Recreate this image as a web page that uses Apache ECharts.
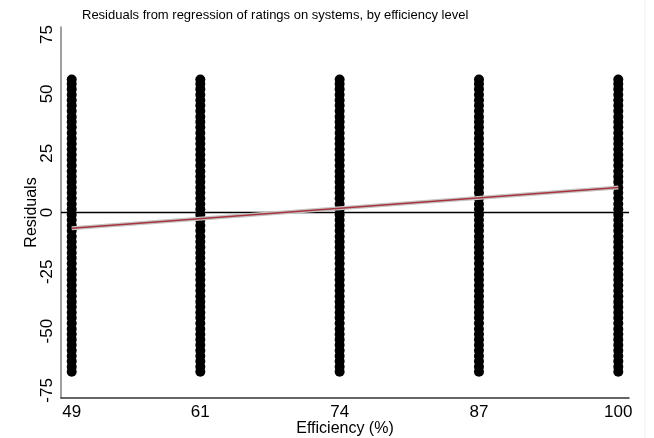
<!DOCTYPE html>
<html>
<head>
<meta charset="utf-8">
<script src="https://cdn.jsdelivr.net/npm/echarts@6/dist/echarts.min.js"></script>
<style>html,body{margin:0;padding:0;background:#fff;}#c{width:654px;height:438px;}</style>
</head>
<body>
<div id="c"></div>
<script>
const titleText = "Residuals from regression of ratings on systems, by efficiency level";
const efficiencyLevels = [49, 61, 74, 87, 100];
const xTicks = [49, 61, 74, 87, 100];
const yTicks = [-75, -50, -25, 0, 25, 50, 75];
const residuals = [56.1, 54.2, 52.0, 49.6, 47.3, 45.1, 42.8, 40.4, 38.2, 35.9, 33.5, 31.2, 29.0, 26.7, 24.3, 22.1, 19.8, 17.4, 15.2, 12.9, 10.5, 8.3, 6.0, 3.6, 1.4, -0.9, -3.2, -5.5, -7.7, -10.1, -12.3, -14.6, -17.0, -19.2, -21.5, -23.9, -26.1, -28.4, -30.7, -33.0, -35.3, -37.6, -39.8, -42.2, -44.4, -46.7, -49.1, -51.3, -53.6, -55.9, -58.2, -60.5, -62.7, -65.0, -67.1];
const fitX = [49, 100];
const fitY = [-6.6, 10.5];
const zeroX = [48, 101];

const pts = [];
efficiencyLevels.forEach(x => residuals.forEach(r => pts.push([x, r])));
const fitData = fitX.map((x, i) => [x, fitY[i]]);
const zeroData = zeroX.map(x => [x, 0]);

const FONT = 'Liberation Sans, Arial, sans-serif';
const chart = echarts.init(document.getElementById('c'), null, {renderer: 'canvas'});
chart.setOption({
  animation: false,
  backgroundColor: '#fff',
  title: {
    text: titleText, left: 77, top: 4,
    textStyle: {fontFamily: FONT, fontSize: 13, fontWeight: 'normal', color: '#000'}
  },
  grid: {left: 61, right: 25, top: 27, bottom: 40, outerBoundsMode: 'none', containLabel: false},
  xAxis: {
    type: 'value', min: 48, max: 101,
    name: 'Efficiency (%)', nameLocation: 'middle', nameGap: 23, nameMoveOverlap: false,
    nameTextStyle: {fontFamily: FONT, fontSize: 16, color: '#000'},
    axisLine: {show: true, onZero: false, lineStyle: {color: '#333', width: 1.5}},
    axisTick: {show: false},
    splitLine: {show: false},
    axisLabel: {customValues: xTicks, margin: 6, fontFamily: FONT, fontSize: 17, color: '#000'}
  },
  yAxis: {
    type: 'value', min: -78.2, max: 78.2,
    name: 'Residuals', nameLocation: 'middle', nameGap: 21, nameRotate: 90, nameMoveOverlap: false,
    nameTextStyle: {fontFamily: FONT, fontSize: 16, color: '#000'},
    axisLine: {show: true, lineStyle: {color: '#808080', width: 1.5}},
    axisTick: {show: false},
    splitLine: {show: false},
    axisLabel: {customValues: yTicks, rotate: 90, margin: 5, fontFamily: FONT, fontSize: 17, color: '#000'}
  },
  graphic: [{type: 'line', shape: {x1: 645, y1: 0, x2: 645, y2: 438}, style: {stroke: '#f0f0f0', lineWidth: 1}}],
  series: [
    {
      type: 'line', data: zeroData, symbol: 'none', z: 1,
      lineStyle: {color: '#000', width: 1.5}
    },
    {
      type: 'scatter', data: pts, symbol: 'circle', symbolSize: 10,
      itemStyle: {color: '#000', opacity: 1}, z: 3
    },
    {
      type: 'line', data: fitData, symbol: 'none', z: 4,
      lineStyle: {color: '#c4c4c4', width: 4}
    },
    {
      type: 'line', data: fitData, symbol: 'none', z: 5,
      lineStyle: {color: '#a8323e', width: 1.5}
    }
  ]
});
</script>
</body>
</html>
